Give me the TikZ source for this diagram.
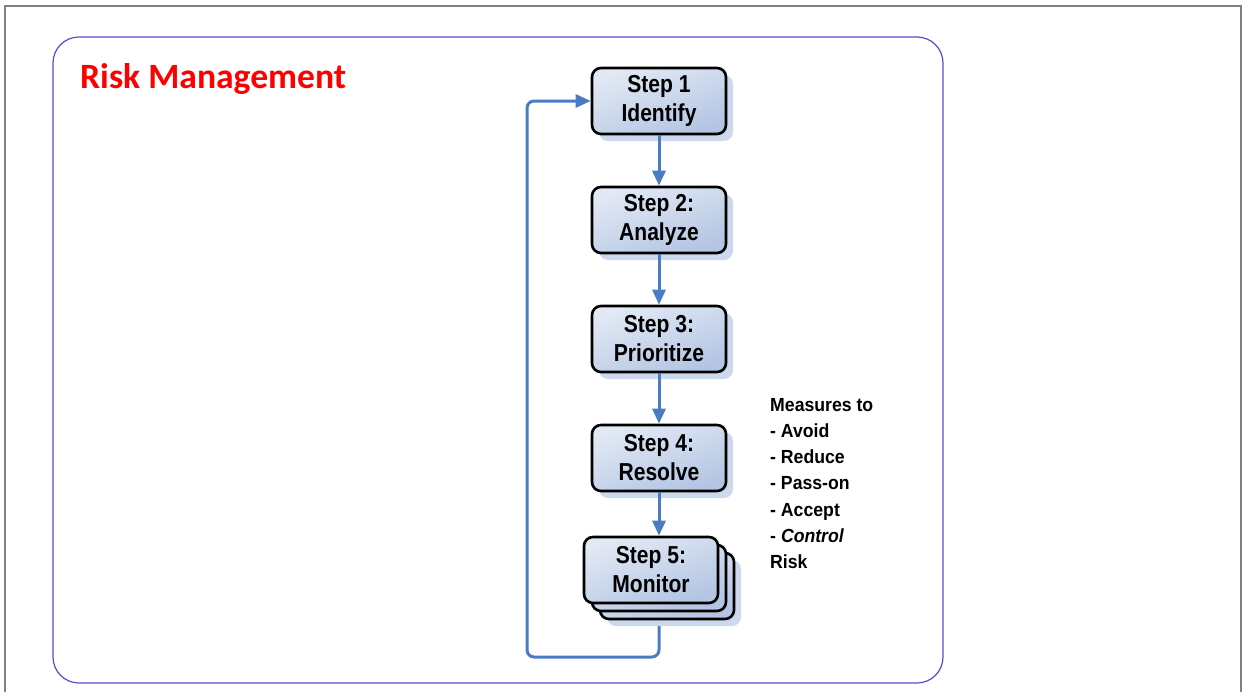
\documentclass[tikz,border=0pt]{standalone}
\usepackage{fontspec}
\setmainfont{Liberation Sans}
\newfontfamily\titlefont{Carlito}
\newfontfamily\stepfont[FakeStretch=0.86]{Liberation Sans}
\newfontfamily\notefont[FakeStretch=0.93]{Liberation Sans}
\usetikzlibrary{arrows.meta,shadows,backgrounds}
\definecolor{framegray}{HTML}{808080}
\definecolor{panelblue}{HTML}{4F4FCF}
\definecolor{titlered}{HTML}{FF0000}
\definecolor{linkblue}{HTML}{4A7CC4}
\definecolor{boxtop}{HTML}{E2E9F4}
\definecolor{boxbot}{HTML}{B3C5E3}
\definecolor{shadowblue}{HTML}{CCD8EC}
\tikzset{
  stepbox/.style={draw=black, line width=2.6pt, rounded corners=9pt,
    minimum width=134pt, minimum height=66pt, align=center, inner sep=0pt,
    top color=boxtop, bottom color=boxbot, shading angle=20,
    font=\stepfont\bfseries\fontsize{24.5}{29}\selectfont},
  shadowed/.style={general shadow={fill=shadowblue, shadow xshift=7pt, shadow yshift=-7pt}},
  link/.style={draw=linkblue, line width=3pt, -{Triangle[length=15pt,width=13pt]}},
}
\begin{document}
\begin{tikzpicture}[x=1pt,y=-1pt]
\useasboundingbox (0,0) rectangle (1247,691);
\draw[framegray, line width=1.5pt] (5,700) -- (5,6) -- (1241,6) -- (1241,700);
\draw[panelblue, line width=1.2pt, rounded corners=26pt] (53,37) rectangle (943,683);
\node[anchor=base west, inner sep=0pt, text=titlered, font=\titlefont\bfseries\fontsize{35.6}{42}\selectfont] (title) at (80,88) {Risk Management};

\node[stepbox, shadowed] (s1) at (659,101) {Step 1\\Identify};
\node[stepbox, shadowed] (s2) at (659,220) {Step 2:\\Analyze};
\node[stepbox, shadowed] (s3) at (659,339) {Step 3:\\Prioritize};
\node[stepbox, shadowed] (s4) at (659,458) {Step 4:\\Resolve};
\node[stepbox, shadowed] (s5c) at (667,586) {};
\node[stepbox] (s5b) at (659,578) {};
\node[stepbox] (s5) at (651,570) {Step 5:\\Monitor};

\coordinate (loopcorner) at (527,657);
\begin{scope}[on background layer]
\draw[linkblue, line width=3pt, rounded corners=7pt, -{Triangle[length=15pt,width=13pt]}]
  (s5b.south) |- (loopcorner) |- (s1.west);
\end{scope}
\draw[link] (s1.south) -- (s2.north);
\draw[link] (s2.south) -- (s3.north);
\draw[link] (s3.south) -- (s4.north);
\draw[link] (s4.south) -- (s4.south |- s5.north);

\node[anchor=north west, inner sep=0pt, align=left, font=\notefont\bfseries\fontsize{19}{26.2}\selectfont] (measures) at (770,398)
  {Measures to\\- Avoid\\- Reduce\\- Pass-on\\- Accept\\- \textit{Control}\\Risk};
\end{tikzpicture}
\end{document}
